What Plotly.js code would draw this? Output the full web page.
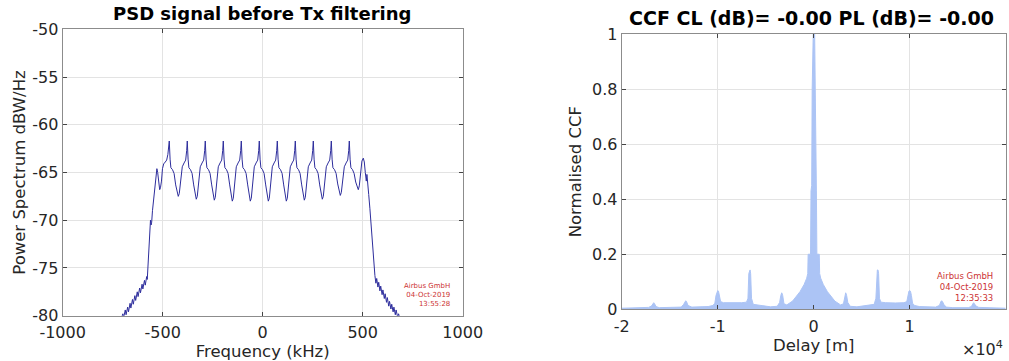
<!DOCTYPE html>
<html>
<head>
<meta charset="utf-8">
<script src="https://cdn.plot.ly/plotly-3.0.1.min.js"></script>
<style>
  html, body { margin: 0; padding: 0; background: #ffffff; }
  #chart { width: 1009px; height: 361px; }
</style>
</head>
<body>
<div id="chart"></div>
<script>
// ---------- Left panel: PSD before Tx filtering ----------
const psdFreqKHz = [
  -710, -699, -695, -687, -683, -675, -671, -663, -659, -651, -647, -639, -635, -627, -623, -615, -611, -603, -599, -591, -587, -580, -577,
  -573, -568, -564, -561, -558, -555, -551, -546, -540, -534, -529, -525, -520, -515, -511, -506, -501, -495, -487, -480, -474, -470,
  -467, -463, -459, -451, -443, -435, -427, -422, -417, -409, -402, -393, -385, -380,
  -377, -373, -369, -361, -353, -345, -337, -332, -327, -319, -312, -303, -295, -290,
  -287, -283, -279, -271, -263, -255, -247, -242, -237, -229, -222, -213, -205, -200,
  -197, -193, -189, -181, -173, -165, -157, -152, -147, -139, -132, -123, -115, -110,
  -107, -103, -99, -91, -83, -75, -67, -62, -57, -49, -42, -33, -25, -20,
  -17, -13, -9, -1, 7, 15, 23, 28, 33, 41, 48, 57, 65, 70,
  73, 77, 81, 89, 97, 105, 113, 118, 123, 131, 138, 147, 155, 160,
  163, 167, 171, 179, 187, 195, 203, 208, 213, 221, 228, 237, 245, 250,
  253, 257, 261, 269, 277, 285, 293, 298, 303, 311, 318, 327, 335, 340,
  343, 347, 351, 359, 367, 375, 383, 388, 393, 401, 408, 417, 425, 430,
  433, 437, 441, 449, 457, 465, 473, 478, 483, 490, 496, 503, 508, 513, 518, 521, 524, 530, 536, 543, 550, 556, 561,
  566, 570, 576, 580, 586, 590, 597, 601, 608, 612, 619, 623, 630, 634, 641, 645, 652, 656, 663, 667, 675, 679, 690
];
const psdDbW = [
  -80.5, -79.8, -80.2, -79.4, -79.9, -79.1, -79.6, -78.7, -79.2, -78.3, -78.8, -77.9, -78.4, -77.5, -78.0, -77.1, -77.6, -76.7, -77.2, -76.3, -76.8, -75.9, -76.2,
  -74.5, -72.5, -70.8, -70.0, -70.5, -70.2, -69.0, -67.8, -66.6, -65.4, -64.6, -65.0, -66.3, -66.8, -66.6, -65.9, -64.6, -64.1, -63.9, -63.7, -63.1, -62.4,
  -61.7, -63.6, -64.5, -64.7, -65.1, -66.3, -67.2, -67.5, -67.2, -65.8, -64.4, -64.0, -63.7, -62.7,
  -61.7, -63.6, -64.5, -64.7, -65.1, -66.3, -67.5, -67.8, -67.5, -65.8, -64.4, -64.0, -63.7, -62.7,
  -61.7, -63.6, -64.5, -64.7, -65.1, -66.3, -67.6, -67.9, -67.6, -65.8, -64.4, -64.0, -63.7, -62.7,
  -61.7, -63.6, -64.5, -64.7, -65.1, -66.3, -67.7, -68.0, -67.7, -65.8, -64.4, -64.0, -63.7, -62.7,
  -61.7, -63.6, -64.5, -64.7, -65.1, -66.3, -67.7, -68.0, -67.7, -65.8, -64.4, -64.0, -63.7, -62.7,
  -61.7, -63.6, -64.5, -64.7, -65.1, -66.3, -67.7, -68.0, -67.7, -65.8, -64.4, -64.0, -63.7, -62.7,
  -61.7, -63.6, -64.5, -64.7, -65.1, -66.3, -67.7, -68.0, -67.7, -65.8, -64.4, -64.0, -63.7, -62.7,
  -61.7, -63.6, -64.5, -64.7, -65.1, -66.3, -67.6, -67.9, -67.6, -65.8, -64.4, -64.0, -63.7, -62.7,
  -61.7, -63.6, -64.5, -64.7, -65.1, -66.3, -67.5, -67.8, -67.5, -65.8, -64.4, -64.0, -63.7, -62.7,
  -61.7, -63.6, -64.5, -64.7, -65.1, -66.2, -67.1, -67.4, -67.1, -65.8, -64.4, -64.0, -63.7, -62.7,
  -61.7, -63.6, -64.5, -64.7, -65.1, -66.0, -66.6, -66.8, -66.4, -64.8, -63.8, -63.5, -63.9, -65.0, -65.9, -65.2, -65.7, -67.3, -68.8, -71.0, -73.5, -75.0, -75.8,
  -76.6, -76.1, -77.0, -76.5, -77.4, -76.9, -77.8, -77.3, -78.2, -77.7, -78.6, -78.1, -79.0, -78.5, -79.3, -78.8, -79.6, -79.1, -79.9, -79.4, -80.2, -79.8, -80.5
];
const psdXTickVals = [-1000, -500, 0, 500, 1000];
const psdXTickText = ['-1000', '-500', '0', '500', '1000'];
const psdYTickVals = [-80, -75, -70, -65, -60, -55, -50];
const psdYTickText = ['-80', '-75', '-70', '-65', '-60', '-55', '-50'];

// ---------- Right panel: normalised CCF ----------
const ccfDelayM = [
  -20000, -18500, -17200, -16900, -16750, -16667, -16580, -16430, -16100, -14500, -13800, -13550, -13420, -13333, -13250, -13100, -12700,
  -11000, -10500, -10300, -10180, -10080, -10000, -9920, -9820, -9700, -9400, -8500, -7500, -7000, -6850, -6760, -6700, -6667, -6630,
  -6570, -6480, -6300, -5500, -4500, -3800, -3550, -3430, -3360, -3333, -3300, -3230, -3100, -2800, -2200, -1430, -1000, -730, -620,
  -580, -330, -280, -210, -160, -100, -50, 0,
  50, 100, 160, 210, 280, 330, 580,
  620, 730, 1000, 1430, 2200, 2800, 3100, 3230, 3300, 3333, 3360, 3430, 3550, 3800, 4500, 5500, 6300, 6480, 6570,
  6630, 6667, 6700, 6760, 6850, 7000, 7500, 8500, 9400, 9700, 9820, 9920, 10000, 10080, 10180, 10300, 10500, 11000,
  12700, 13100, 13250, 13333, 13420, 13550, 13800, 14500, 16100, 16430, 16580, 16667, 16750, 16900, 17200, 18500, 20000
];
const ccfValue = [
  0.004, 0.005, 0.007, 0.012, 0.020, 0.024, 0.020, 0.010, 0.006, 0.006, 0.008, 0.018, 0.028, 0.031, 0.028, 0.014, 0.008,
  0.010, 0.014, 0.022, 0.050, 0.066, 0.068, 0.066, 0.050, 0.028, 0.024, 0.023, 0.024, 0.026, 0.040, 0.130, 0.143, 0.143, 0.143,
  0.130, 0.040, 0.018, 0.015, 0.009, 0.011, 0.025, 0.050, 0.058, 0.060, 0.058, 0.050, 0.020, 0.016, 0.030, 0.064, 0.090, 0.113, 0.130,
  0.200, 0.200, 0.430, 0.450, 0.800, 1.000, 1.000, 1.000,
  1.000, 1.000, 0.800, 0.450, 0.430, 0.200, 0.200,
  0.130, 0.113, 0.090, 0.064, 0.030, 0.016, 0.020, 0.050, 0.058, 0.060, 0.058, 0.050, 0.025, 0.011, 0.009, 0.015, 0.018, 0.040, 0.130,
  0.143, 0.143, 0.143, 0.130, 0.040, 0.026, 0.024, 0.023, 0.024, 0.028, 0.050, 0.066, 0.068, 0.066, 0.050, 0.022, 0.014, 0.010,
  0.008, 0.014, 0.028, 0.031, 0.028, 0.018, 0.008, 0.006, 0.006, 0.010, 0.020, 0.024, 0.020, 0.012, 0.007, 0.005, 0.004
];
const ccfXTickVals = [-20000, -10000, 0, 10000, 20000];
const ccfXTickText = ['-2', '-1', '0', '1', '2'];
const ccfYTickVals = [0, 0.2, 0.4, 0.6, 0.8, 1];
const ccfYTickText = ['0', '0.2', '0.4', '0.6', '0.8', '1'];

const FONT = 'DejaVu Sans, Liberation Sans, sans-serif';
const TICKCOL = '#262626';
const FRAME = '#8c8c8c';
const GRID = '#e3e3e3';
const STAMP = '#cc3333';

const traces = [
  {
    x: psdFreqKHz, y: psdDbW, type: 'scatter', mode: 'lines',
    line: { color: '#2d2d9c', width: 1 },
    xaxis: 'x', yaxis: 'y', hoverinfo: 'skip', cliponaxis: true
  },
  {
    x: ccfDelayM, y: ccfValue, type: 'scatter', mode: 'lines',
    fill: 'tozeroy', fillcolor: 'rgb(172,196,245)',
    line: { color: 'rgb(172,196,245)', width: 1 },
    xaxis: 'x2', yaxis: 'y2', hoverinfo: 'skip'
  }
];

function axisCommon() {
  return {
    showline: true, linecolor: FRAME, linewidth: 1, mirror: 'ticks',
    ticks: 'inside', ticklen: 4, tickcolor: '#444444', tickwidth: 1,
    showgrid: true, gridcolor: GRID, gridwidth: 1, zeroline: false,
    tickfont: { family: FONT, size: 16, color: TICKCOL },
    tickmode: 'array', fixedrange: true
  };
}

const layout = {
  width: 1009, height: 361,
  margin: { l: 0, r: 0, t: 0, b: 0 },
  paper_bgcolor: '#ffffff', plot_bgcolor: '#ffffff',
  showlegend: false,
  xaxis: Object.assign(axisCommon(), {
    domain: [0.0621, 0.4586], range: [-1000, 1000],
    tickvals: psdXTickVals, ticktext: psdXTickText, anchor: 'y', ticklabelstandoff: 2,
    title: { text: 'Frequency (kHz)', font: { family: FONT, size: 16.5, color: TICKCOL }, standoff: 4 }
  }),
  yaxis: Object.assign(axisCommon(), {
    domain: [0.1255, 0.9188], range: [-80, -50],
    tickvals: psdYTickVals, ticktext: psdYTickText, anchor: 'x',
    title: { text: 'Power Spectrum dBW/Hz', font: { family: FONT, size: 16.5, color: TICKCOL }, standoff: 2 }
  }),
  xaxis2: Object.assign(axisCommon(), {
    domain: [0.6162, 0.9967], range: [-20000, 20000],
    tickvals: ccfXTickVals, ticktext: ccfXTickText, anchor: 'y2', ticklabelstandoff: 2,
    title: { text: 'Delay [m]', font: { family: FONT, size: 16.5, color: TICKCOL }, standoff: 4 }
  }),
  yaxis2: Object.assign(axisCommon(), {
    domain: [0.1432, 0.9058], range: [0, 1],
    tickvals: ccfYTickVals, ticktext: ccfYTickText, anchor: 'x2',
    title: { text: 'Normalised CCF', font: { family: FONT, size: 16.5, color: TICKCOL }, standoff: 6 }
  }),
  annotations: [
    { text: '<b>PSD signal before Tx filtering</b>', xref: 'paper', yref: 'paper',
      x: 262 / 1009, y: 1 - 14 / 361, xanchor: 'center', yanchor: 'middle', showarrow: false,
      font: { family: FONT, size: 18, color: '#000000' } },
    { text: '<b>CCF CL (dB)= -0.00 PL (dB)= -0.00</b>', xref: 'paper', yref: 'paper',
      x: 811 / 1009, y: 1 - 18 / 361, xanchor: 'center', yanchor: 'middle', showarrow: false,
      font: { family: FONT, size: 19, color: '#000000' } },
    { text: 'Airbus GmbH<br>04-Oct-2019<br>13:55:28', xref: 'paper', yref: 'paper',
      x: 452 / 1009, y: 1 - 295 / 361, xanchor: 'right', yanchor: 'middle', align: 'right', showarrow: false,
      font: { family: FONT, size: 7, color: STAMP } },
    { text: 'Airbus GmbH<br>04-Oct-2019<br>12:35:33', xref: 'paper', yref: 'paper',
      x: 995 / 1009, y: 1 - 287 / 361, xanchor: 'right', yanchor: 'middle', align: 'right', showarrow: false,
      font: { family: FONT, size: 8.5, color: STAMP } },
    { text: '×10<sup>4</sup>', xref: 'paper', yref: 'paper',
      x: 1005 / 1009, y: 1 - 348 / 361, xanchor: 'right', yanchor: 'middle', showarrow: false,
      font: { family: FONT, size: 16, color: TICKCOL } }
  ]
};

Plotly.newPlot('chart', traces, layout, { staticPlot: true, displayModeBar: false });
</script>
</body>
</html>
